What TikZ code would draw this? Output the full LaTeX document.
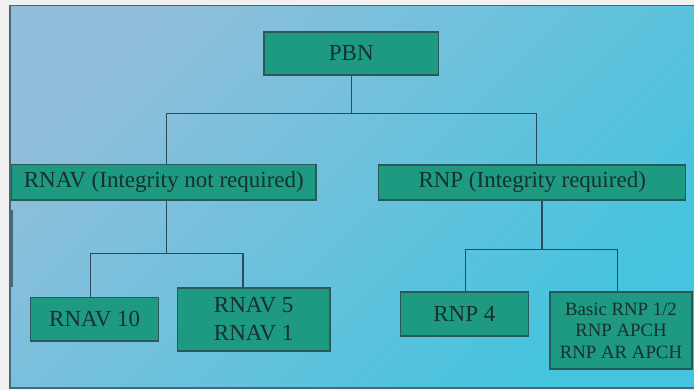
\documentclass[tikz,border=0pt]{standalone}
\usepackage{fontspec}
\setmainfont{Liberation Serif}
\definecolor{outer}{HTML}{F1F1F1}
\definecolor{panelA}{HTML}{90BEDB}
\definecolor{panelB}{HTML}{44C4DE}
\definecolor{panelline}{HTML}{48687A}
\definecolor{boxfill}{HTML}{1E9A82}
\definecolor{boxline}{HTML}{2A5A58}
\definecolor{txt}{HTML}{16302E}
\definecolor{wire}{HTML}{2C4A5A}
\tikzset{
  box/.style={draw=boxline, line width=1.2pt, fill=boxfill, text=txt,
    inner sep=0pt, align=center, font=\fontsize{23}{28}\selectfont},
  smallbox/.style={box, font=\fontsize{18.8}{21.5}\selectfont},
  wireline/.style={draw=wire, line width=1.1pt}
}
\begin{document}
\begin{tikzpicture}[x=1pt,y=1pt]
\useasboundingbox (0,0) rectangle (694,-390);
\fill[outer] (0,0) rectangle (694,-390);
\path[top color=panelA, bottom color=panelB, shading angle=45]
  (10,-5.5) rectangle (700,-388);
\draw[panelline, line width=1.5pt] (700,-5.5) -- (10,-5.5) -- (10,-388) -- (700,-388);
\draw[panelline, line width=2.2pt] (11.5,-210) -- (11.5,-287);

\node[box, minimum width=174.7pt, minimum height=43pt] (pbn) at (351.3,-53.5) {PBN};
\node[box, minimum width=304.3pt, minimum height=35.3pt] (rnav) at (163.8,-182.3) {RNAV (Integrity not required)};
\node[box, minimum width=307pt, minimum height=35pt] (rnp) at (532.2,-182.5) {RNP (Integrity required)};
\node[box, minimum width=128pt, minimum height=43.7pt] (rnav10) at (94.7,-319.2) {RNAV 10};
\node[box, minimum width=152.7pt, minimum height=63pt] (rnav5) at (253.7,-319.5) {RNAV 5\\RNAV 1};
\node[box, minimum width=128pt, minimum height=44pt] (rnp4) at (464.3,-314) {RNP 4};
\node[smallbox, minimum width=142pt, minimum height=77pt] (basic) at (621,-330.5) {Basic RNP 1/2\\RNP APCH\\RNP AR APCH};

\coordinate (c1) at (166.7,-113.7);
\coordinate (c2) at (536.7,-113.7);
\coordinate (c3) at (90.3,-253.7);
\coordinate (c4) at (243,-253.7);
\coordinate (c5) at (465.7,-249.3);
\coordinate (c6) at (617.7,-249.3);
\coordinate (c7) at (542,-249.3);

\draw[wireline] (pbn.south) -- (pbn.south |- c1);
\draw[wireline] (c1 |- rnav.north) -- (c1) -- (c2) -- (c2 |- rnp.north);
\draw[wireline] (c1 |- rnav.south) -- (c1 |- c3);
\draw[wireline] (c3 |- rnav10.north) -- (c3) -- (c4) -- (c4 |- rnav5.north);
\draw[wireline] (c7 |- rnp.south) -- (c7);
\draw[wireline] (c5 |- rnp4.north) -- (c5) -- (c6) -- (c6 |- basic.north);
\end{tikzpicture}
\end{document}
